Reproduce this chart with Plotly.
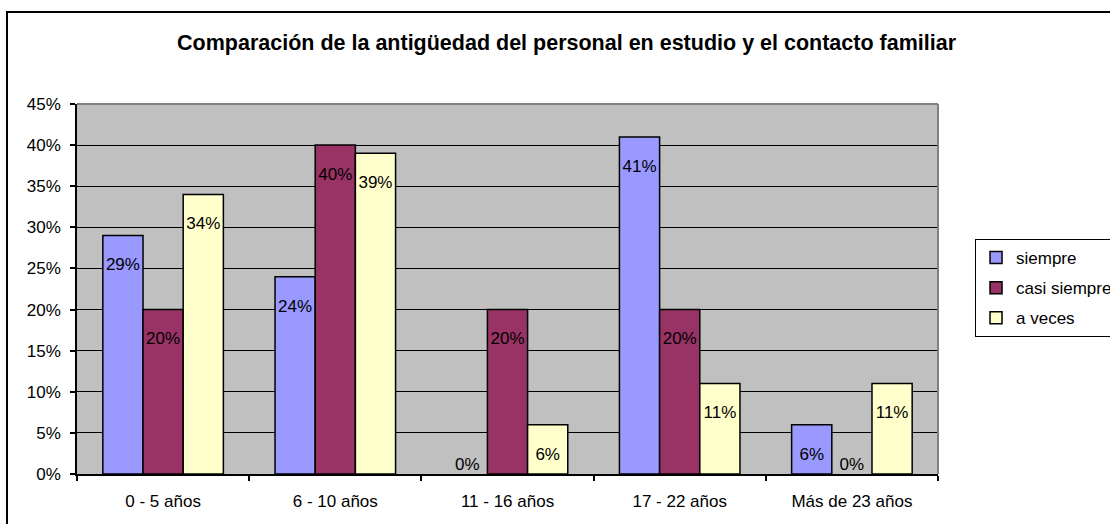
import plotly.graph_objects as go

categories = ["0 - 5 años", "6 - 10 años", "11 - 16 años", "17 - 22 años", "Más de 23 años"]
series_names = ["siempre", "casi siempre", "a veces"]
siempre = [0.29, 0.24, 0.00, 0.41, 0.06]
casi_siempre = [0.20, 0.40, 0.20, 0.20, 0.00]
a_veces = [0.34, 0.39, 0.06, 0.11, 0.11]
y_ticks = [0, 0.05, 0.10, 0.15, 0.20, 0.25, 0.30, 0.35, 0.40, 0.45]
title_text = "Comparación de la antigüedad del personal en estudio y el contacto familiar"

colors = ["#9999FF", "#993366", "#FFFFCC"]
series_values = [siempre, casi_siempre, a_veces]
FONT = "Liberation Sans, Arial, sans-serif"

fig = go.Figure()
for i, (name, vals) in enumerate(zip(series_names, series_values)):
    fig.add_trace(go.Bar(
        x=categories, y=vals, name=name,
        marker=dict(color=colors[i],
                    line=dict(color="black", width=[1.5 if v > 0 else 0 for v in vals])),
        offsetgroup=str(i), legendgroup=str(i),
    ))
for i, (name, vals) in enumerate(zip(series_names, series_values)):
    fig.add_trace(go.Scatter(
        x=categories, y=vals, mode="text",
        text=[("<br>%d%%" % round(v * 100)) if v > 0 else ("%d%%" % round(v * 100)) for v in vals],
        textposition=["bottom center" if v > 0 else "top center" for v in vals],
        textfont=dict(family=FONT, size=17, color="black"),
        offsetgroup=str(i), showlegend=False, hoverinfo="skip", cliponaxis=False,
    ))

fig.update_layout(
    width=1110, height=524,
    margin=dict(l=77, r=172, t=104, b=50, autoexpand=False),
    paper_bgcolor="white", plot_bgcolor="#C0C0C0",
    barmode="group", bargap=0.30, bargroupgap=0,
    scattermode="group", scattergap=0.30,
    font=dict(family=FONT, size=17, color="black"),
    title=dict(text="<b>" + title_text + "</b>", x=0.5104, xanchor="center",
               y=1 - 42 / 524, yanchor="middle", yref="container",
               font=dict(family=FONT, size=21.5, color="black")),
    legend=dict(x=1.043, xanchor="left", y=0.5027, yanchor="middle",
                bordercolor="black", borderwidth=1, bgcolor="white",
                font=dict(family=FONT, size=17, color="black"),
                tracegroupgap=5),
    showlegend=True,
)
fig.update_xaxes(
    type="category", showline=True, linecolor="black", linewidth=1.5,
    ticks="outside", tickson="boundaries", ticklen=5, tickcolor="black", tickwidth=1.5,
    showgrid=False, ticklabelstandoff=11, tickfont=dict(size=17),
)
fig.update_yaxes(
    range=[0, 0.45], tickvals=y_ticks, tickformat=".0%",
    showline=True, linecolor="black", linewidth=1.5,
    ticks="outside", ticklen=5, tickcolor="black", tickwidth=1.5,
    showgrid=True, gridcolor="black", gridwidth=1, zeroline=False,
    ticklabelstandoff=6, tickfont=dict(size=17),
)
# plot area border (top and right, gray)
fig.add_shape(type="line", xref="paper", yref="paper", x0=0, x1=1, y0=1, y1=1,
              line=dict(color="#808080", width=2), layer="above")
fig.add_shape(type="line", xref="paper", yref="paper", x0=1, x1=1, y0=0, y1=1,
              line=dict(color="#808080", width=2), layer="above")
# outer chart frame
fig.add_shape(type="rect", xref="paper", yref="paper",
              xsizemode="pixel", ysizemode="pixel", xanchor=0, yanchor=0,
              x0=-70, x1=1200, y0=-200, y1=462,
              line=dict(color="black", width=2), fillcolor="rgba(0,0,0,0)", layer="below")

fig.write_html("out.html", config={"displayModeBar": False},
               post_script="document.body.style.margin='0';document.body.style.padding='0';")
